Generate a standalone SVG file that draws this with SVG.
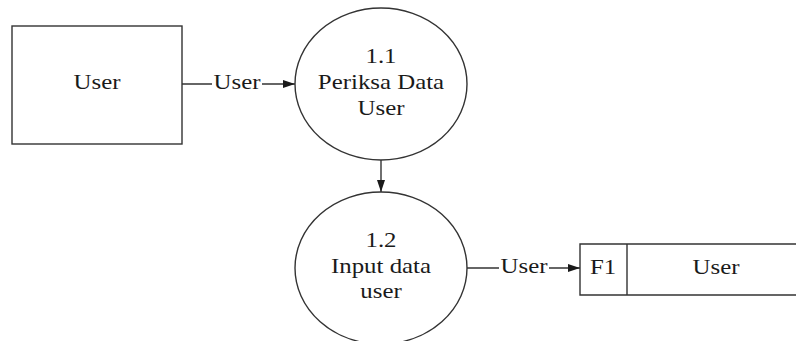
<svg xmlns="http://www.w3.org/2000/svg" width="796" height="341" viewBox="0 0 796 341">
<style>
.s{fill:#fff;stroke:#333;stroke-width:1.4}
.l{fill:none;stroke:#333;stroke-width:1.4}
.t{font-family:"Liberation Serif","Times New Roman",serif;font-size:22px;fill:#1a1a1a;text-anchor:middle}
.bg{fill:#fff}
</style>
<defs>
<marker id="ah" markerWidth="12" markerHeight="8" refX="12" refY="4" orient="auto" markerUnits="userSpaceOnUse">
<path d="M0,0 L12,4 L0,8 Z" fill="#1a1a1a"/>
</marker>
</defs>
<rect width="796" height="341" fill="#fff"/>
<g id="connectors">
<line class="l" x1="182" y1="84" x2="295" y2="84" marker-end="url(#ah)"/>
<rect class="bg" x="212" y="70" width="50" height="26"/>
<text class="t" transform="translate(237,89) scale(1.13,1)">User</text>
<line class="l" x1="381" y1="160" x2="381" y2="192" marker-end="url(#ah)"/>
<line class="l" x1="467" y1="268" x2="580" y2="268" marker-end="url(#ah)"/>
<rect class="bg" x="499" y="254" width="50" height="26"/>
<text class="t" transform="translate(524,273) scale(1.13,1)">User</text>
</g>
<g id="user-entity">
<rect class="s" x="12" y="26" width="170" height="118"/>
<text class="t" transform="translate(97,89) scale(1.13,1)">User</text>
</g>
<g id="p1-1">
<ellipse class="s" cx="381" cy="84" rx="86" ry="76"/>
<text class="t" transform="translate(381,63) scale(1.13,1)">1.1</text>
<text class="t" transform="translate(381,89) scale(1.13,1)">Periksa Data</text>
<text class="t" transform="translate(381,115) scale(1.13,1)">User</text>
</g>
<g id="p1-2">
<ellipse class="s" cx="381" cy="268" rx="86" ry="76"/>
<text class="t" transform="translate(381,247) scale(1.13,1)">1.2</text>
<text class="t" transform="translate(381,273) scale(1.13,1)">Input data</text>
<text class="t" transform="translate(381,298) scale(1.13,1)">user</text>
</g>
<g id="f1-store">
<path class="l" d="M797,244 H580 V295 H797 M627,244 V295"/>
<text class="t" transform="translate(603,274) scale(1.13,1)">F1</text>
<text class="t" transform="translate(716,274) scale(1.13,1)">User</text>
</g>
</svg>
